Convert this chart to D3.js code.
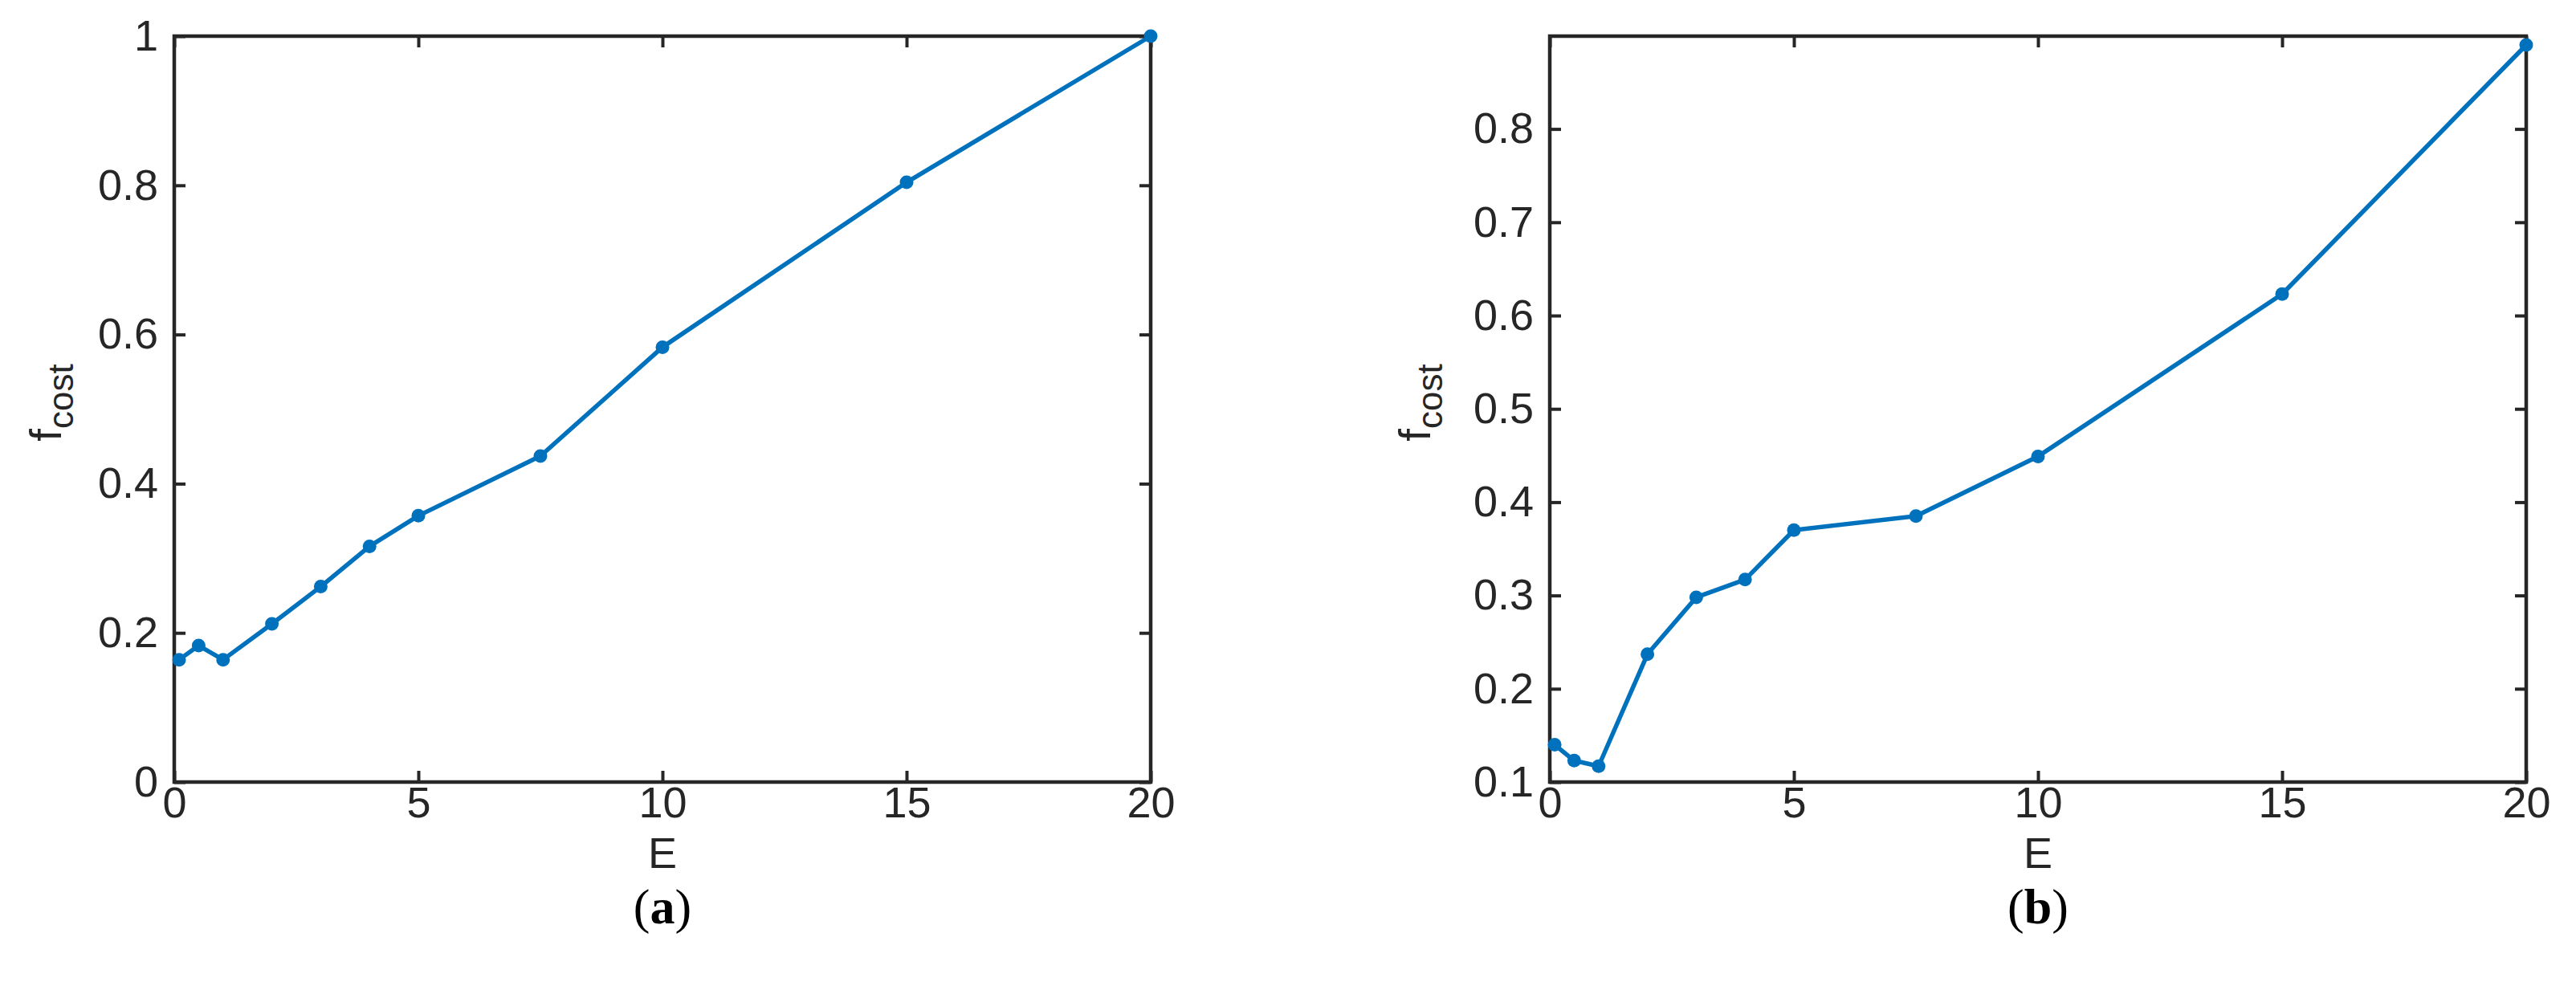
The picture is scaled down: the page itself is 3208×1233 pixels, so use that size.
<!DOCTYPE html>
<html>
<head>
<meta charset="utf-8">
<script src="https://cdn.jsdelivr.net/npm/d3@7"></script>
<style>
  html, body { margin: 0; padding: 0; background: #ffffff; }
  svg { display: block; }
</style>
</head>
<body>
<svg id="chart" width="3208" height="1233"></svg>
<script>
// ---- data ----
const energies = [0.1, 0.5, 1, 2, 3, 4, 5, 7.5, 10, 15, 20];
const costA = [0.164, 0.183, 0.164, 0.212, 0.262, 0.316, 0.357, 0.437, 0.583, 0.804, 1.0];
const costB = [0.140, 0.123, 0.117, 0.237, 0.298, 0.317, 0.370, 0.385, 0.449, 0.623, 0.890];
const xTickValues = [0, 5, 10, 15, 20];
const yTicksA = [0, 0.2, 0.4, 0.6, 0.8, 1];
const yTicksB = [0.1, 0.2, 0.3, 0.4, 0.5, 0.6, 0.7, 0.8];
const xDomain = [0, 20];
const yDomainA = [0, 1];
const yDomainB = [0.1, 0.8995];
const panelLetters = ["a", "b"];

// ---- styling ----
const axisColor = "#262626";
const lineColor = "#0072BD";
const fontSans = "'Liberation Sans', Arial, Helvetica, sans-serif";
const fontSerif = "'Liberation Serif', 'Times New Roman', serif";
const tickFont = 54;

const svg = d3.select("#chart");

const panels = [
  { left: 217, right: 1433, top: 45, bottom: 974, values: costA, yTicks: yTicksA, yDomain: yDomainA, letter: panelLetters[0], yLabelX: 76 },
  { left: 1930, right: 3146, top: 45, bottom: 974, values: costB, yTicks: yTicksB, yDomain: yDomainB, letter: panelLetters[1], yLabelX: 1781 }
];

panels.forEach(p => {
  const x = d3.scaleLinear().domain(xDomain).range([p.left, p.right]);
  const y = d3.scaleLinear().domain(p.yDomain).range([p.bottom, p.top]);
  const g = svg.append("g");
  const tickLen = 14;

  const fmt = d => d3.format("~g")(d);

  const gb = g.append("g").attr("transform", `translate(0,${p.bottom})`)
    .call(d3.axisBottom(x).tickValues(xTickValues).tickSizeInner(-tickLen).tickSizeOuter(0).tickPadding(6).tickFormat(fmt));
  const gt = g.append("g").attr("transform", `translate(0,${p.top})`)
    .call(d3.axisTop(x).tickValues(xTickValues).tickSizeInner(-tickLen).tickSizeOuter(0).tickFormat(""));
  const gl = g.append("g").attr("transform", `translate(${p.left},0)`)
    .call(d3.axisLeft(y).tickValues(p.yTicks).tickSizeInner(-tickLen).tickSizeOuter(0).tickPadding(20).tickFormat(fmt));
  const gr = g.append("g").attr("transform", `translate(${p.right},0)`)
    .call(d3.axisRight(y).tickValues(p.yTicks).tickSizeInner(-tickLen).tickSizeOuter(0).tickFormat(""));

  [gb, gt, gl, gr].forEach(a => {
    a.select(".domain").remove();
    a.selectAll(".tick line").attr("stroke", axisColor).attr("stroke-width", 4);
    a.selectAll(".tick text").attr("fill", axisColor).style("font-family", fontSans).style("font-size", tickFont + "px");
  });

  const line = d3.line().x((d, i) => x(energies[i])).y(d => y(d));
  g.append("path").datum(p.values)
    .attr("d", line)
    .attr("fill", "none")
    .attr("stroke", lineColor)
    .attr("stroke-width", 5.5)
    .attr("stroke-linejoin", "round");

  g.append("rect")
    .attr("x", p.left).attr("y", p.top)
    .attr("width", p.right - p.left).attr("height", p.bottom - p.top)
    .attr("fill", "none").attr("stroke", axisColor).attr("stroke-width", 4.5);

  g.selectAll("circle.pt").data(p.values).join("circle")
    .attr("class", "pt")
    .attr("cx", (d, i) => x(energies[i]))
    .attr("cy", d => y(d))
    .attr("r", 8.5)
    .attr("fill", lineColor);

  const cx = (p.left + p.right) / 2;
  g.append("text")
    .attr("x", cx).attr("y", 1081)
    .attr("text-anchor", "middle")
    .attr("fill", axisColor)
    .style("font-family", fontSans).style("font-size", tickFont + "px")
    .text("E");

  const cy = (p.top + p.bottom) / 2 - 8;
  const yl = g.append("text")
    .attr("transform", `translate(${p.yLabelX},${cy}) rotate(-90)`)
    .attr("text-anchor", "middle")
    .attr("fill", axisColor)
    .style("font-family", fontSans).style("font-size", "56px");
  yl.append("tspan").text("f");
  yl.append("tspan").attr("dy", 15).style("font-size", "44px").text("cost");

  const cap = g.append("text")
    .attr("x", cx).attr("y", 1150)
    .attr("text-anchor", "middle")
    .attr("fill", "#000")
    .style("font-family", fontSerif).style("font-size", "62px");
  cap.append("tspan").text("(");
  cap.append("tspan").style("font-weight", "bold").text(p.letter);
  cap.append("tspan").text(")");
});
</script>
</body>
</html>
